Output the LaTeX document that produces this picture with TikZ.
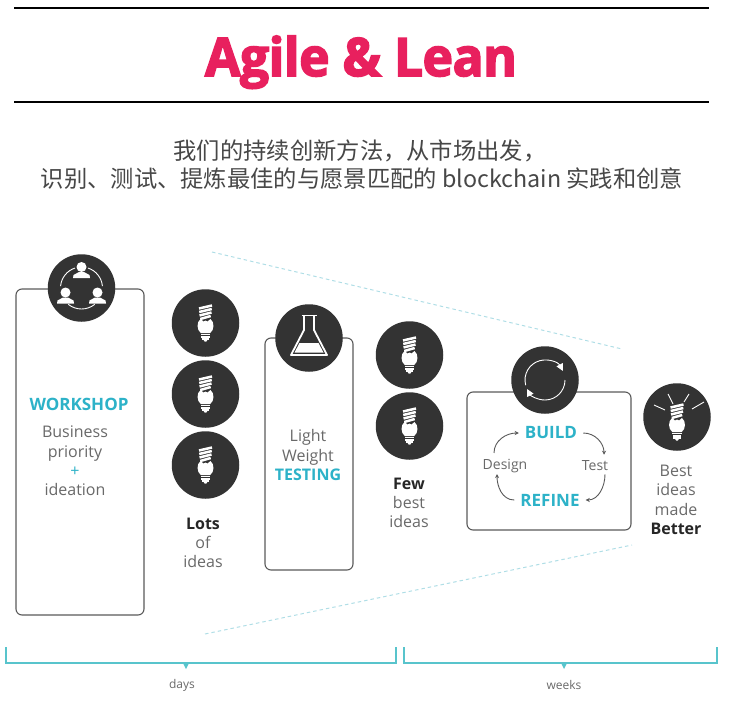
\documentclass[tikz,border=0pt]{standalone}
\usepackage{fontspec}
\usepackage{xcolor}
\usetikzlibrary{arrows.meta, positioning}
\setmainfont{Open Sans}
\newfontfamily\cjkfont{Noto Sans CJK SC}
\newfontfamily\titlefont[BoldFeatures={FakeBold=3,FakeStretch=0.97,LetterSpace=-0.8}]{Open Sans}
\definecolor{agilepink}{RGB}{232,32,94}
\definecolor{discdark}{RGB}{51,51,51}
\definecolor{boxgray}{RGB}{90,90,90}
\definecolor{textgray}{RGB}{105,105,105}
\definecolor{tealtext}{RGB}{45,178,200}
\definecolor{tealline}{RGB}{88,196,204}
\definecolor{dashblue}{RGB}{176,222,230}
\tikzset{
	bulbicon/.pic={
		\foreach \s/\w in {-16/6.5,-12.5/6.3,-9/6,-5.5/5.2}
			\draw[white, line width=2.5pt] (-\w,\s+1.5) -- (\w,\s-1.5);
		\fill[white] (-5,-4) .. controls (-9,-1) and (-9,7) .. (-4.7,10) -- (4.7,10)
			.. controls (9,7) and (9,-1) .. (5,-4) -- (2,-1.5) -- (0,-2.5) -- (-2,-1.5) -- cycle;
		\foreach \s/\w in {11.5/4.7,13.8/4.3,16/3.8}
			\draw[white, line width=1.4pt] (-\w,\s) -- (\w,\s);
		\fill[white] (-2,16.8) -- (2,16.8) -- (0.8,18.6) -- (-0.8,18.6) -- cycle;
	},
	personicon/.pic={
		\fill[white] (0,-4.5) circle (5);
		\fill[white] (-8.5,6.5) -- (-8,3.5) -- (-2.5,0.5) -- (2.5,0.5) -- (8,3.5) -- (8.5,6.5) -- cycle;
	}
}
\begin{document}
\begin{tikzpicture}[x=1pt, y=-1pt,
		framebox/.style={draw=boxgray, line width=1.1pt, fill=white, rounded corners=6pt, inner sep=0pt},
		disc/.style={circle, fill=discdark, minimum size=67.5pt, inner sep=0pt},
		bodytext/.style={text=textgray, align=center, inner sep=0pt, font=\fontsize{16}{19.3}\selectfont},
		tealhead/.style={text=tealtext, inner sep=0pt, font=\fontsize{17}{20}\selectfont\bfseries},
		smalltext/.style={text=textgray, inner sep=0pt, font=\fontsize{14}{16}\selectfont},
		cycleline/.style={draw=boxgray, line width=0.9pt, -{Stealth[length=4pt,width=4pt]}},
		bracket/.style={draw=tealline, line width=1.2pt},
		dashline/.style={draw=dashblue, line width=1pt, dash pattern=on 3.5pt off 3pt},
		icon/.style={draw=white, line width=0.9pt}
	]
	\useasboundingbox (0,0) rectangle (730,722);
	% title
	\coordinate (rule1a) at (14,8);
	\coordinate (rule1b) at (709,8);
	\coordinate (rule2a) at (14,102);
	\coordinate (rule2b) at (709,102);
	\draw[line width=1.6pt] (rule1a) -- (rule1b);
	\draw[line width=1.6pt] (rule2a) -- (rule2b);
	\node[anchor=base, text=agilepink, inner sep=0pt, font=\fontsize{53}{60}\selectfont\titlefont\bfseries] (title) at (361,76) {Agile \& Lean};
	\node[text=black!72, inner sep=0pt, font=\fontsize{23.3}{28}\selectfont\cjkfont] (sub1) at (360,151) {我们的持续创新方法，从市场出发，};
	\node[text=black!72, inner sep=0pt, font=\fontsize{23.3}{28}\selectfont\cjkfont] (sub2) at (362,179) {识别、测试、提炼最佳的与愿景匹配的 blockchain 实践和创意};
	% funnel
	\coordinate (dashtopa) at (212,252);
	\coordinate (dashtopb) at (622,349);
	\coordinate (dashbota) at (205,634);
	\coordinate (dashbotb) at (632,545);
	\draw[dashline] (dashtopa) -- (dashtopb);
	\draw[dashline] (dashbota) -- (dashbotb);
	% boxes
	\node[framebox, minimum width=128pt, minimum height=326pt] (workshop) at (80,452) {};
	\node[framebox, minimum width=88pt, minimum height=232pt] (testing) at (309,454) {};
	\node[framebox, minimum width=164pt, minimum height=138pt] (buildbox) at (549,461) {};
	% discs
	\node[disc] (people) at (81.5,288) {};
	\node[disc] (flask) at (309,338) {};
	\node[disc] (cycle) at (545,380) {};
	\node[disc] (better) at (677,417) {};
	\foreach \n/\x/\y in {lotsa/205.5/323,lotsb/205.5/394,lotsc/205.5/465,fewa/409.5/355,fewb/409.5/426}{
		\node[disc] (\n) at (\x,\y) {};
		\pic at (\n) {bulbicon};
	}
	% people icon
	\pic at ([shift={(0,-16.5)}]people.center) {personicon};
	\pic at ([shift={(-16,9)}]people.center) {personicon};
	\pic at ([shift={(16,9)}]people.center) {personicon};
	\foreach \a/\b in {51/129,185/252,288/355}
		\draw[icon] (people.center) ++(\a:21) arc[start angle=\a, end angle=\b, radius=21];
	% flask icon
	\begin{scope}[shift={(flask.center)}]
		\fill[white] (-9.5,5) -- (9.5,5) -- (14.5,14.5) -- (-14.5,14.5) -- cycle;
		\draw[white, line width=1.8pt, line join=round] (-5,-22) -- (-5,-8) -- (-18,17) -- (18,17) -- (5,-8) -- (5,-22);
		\draw[white, line width=1.8pt] (-7.5,-22.5) -- (7.5,-22.5);
	\end{scope}
	% cycle icon
	\foreach \a/\b in {165/333,0/153}
		\draw[white, line width=0.9pt, -{Triangle[length=7pt,width=7pt]}] (cycle.center) ++(\a:20) arc[start angle=\a, end angle=\b, radius=20];
	% better icon
	\pic at ([shift={(0,5)}]better.center) {bulbicon};
	\foreach \xa/\ya/\xb/\yb in {-23/-12/-12/-7,-9/-23/-4/-13,12/-23/7/-15,27/-15/15/-8}
		\draw[icon] ([shift={(\xa,\ya)}]better.center) -- ([shift={(\xb,\yb)}]better.center);
	% texts
	\node[tealhead] (workshoplab) at (79,404) {WORKSHOP};
	\node[bodytext] (workshoptxt) at (75,461) {Business\\priority\\\textcolor{tealtext}{+}\\ideation};
	\node[bodytext] (testingtxt) at (308,455) {Light\\Weight\\\textcolor{tealtext}{\bfseries TESTING}};
	\node[bodytext] (lotstxt) at (203,543) {\textcolor{black!85}{\bfseries Lots}\\of\\ideas};
	\node[bodytext] (fewtxt) at (409,503) {\textcolor{black!85}{\bfseries Few}\\best\\ideas};
	\node[bodytext] (bettertxt) at (676,500) {Best\\ideas\\made\\\textcolor{black!85}{\bfseries Better}};
	% build loop
	\node[tealhead] (build) at (551,433) {BUILD};
	\node[tealhead] (refine) at (550,500) {REFINE};
	\node[smalltext] (design) at (505,466) {Design};
	\node[smalltext] (test) at (595,466) {Test};
	\draw[cycleline] ([xshift=-11pt,yshift=6pt]design.north) to[out=90, in=180] ([xshift=-6pt]build.west);
	\draw[cycleline] ([xshift=6pt]build.east) to[out=0, in=90] ([xshift=9pt,yshift=6pt]test.north);
	\draw[cycleline] ([xshift=10pt,yshift=-3pt]test.south) to[out=-90, in=0] ([xshift=6pt]refine.east);
	\draw[cycleline] ([xshift=-6pt]refine.west) to[out=180, in=-90] ([xshift=-8pt,yshift=-1pt]design.south);
	% brackets
	\coordinate (daysa) at (6,647);
	\coordinate (daysb) at (396,647);
	\coordinate (weeksa) at (404,647);
	\coordinate (weeksb) at (717,647);
	\draw[bracket] (daysa) -- (6,663) -- (396,663) -- (daysb);
	\draw[bracket] (weeksa) -- (404,663) -- (717,663) -- (weeksb);
	\fill[tealline] (183,663) -- (189,663) -- (186,669) -- cycle;
	\fill[tealline] (561,663) -- (567,663) -- (564,669) -- cycle;
	\node[text=textgray, inner sep=0pt, font=\fontsize{12}{14}\selectfont] (days) at (182,685) {days};
	\node[text=textgray, inner sep=0pt, font=\fontsize{12}{14}\selectfont] (weeks) at (564,685) {weeks};
\end{tikzpicture}
\end{document}
